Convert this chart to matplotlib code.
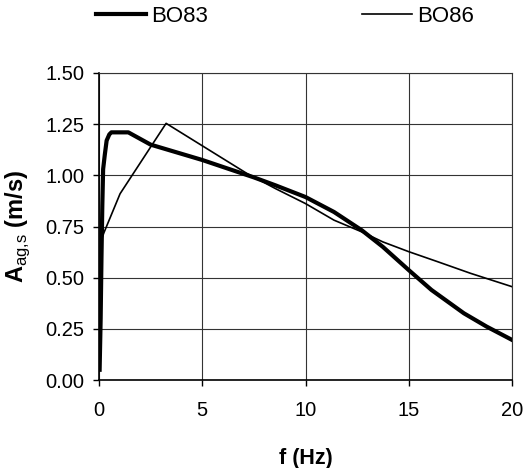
import matplotlib
matplotlib.use("Agg")
from matplotlib import pyplot as plt

plt.rcParams['font.family'] = ['Liberation Sans', 'DejaVu Sans']
plt.rcParams['mathtext.fontset'] = 'custom'
plt.rcParams['mathtext.rm'] = 'Liberation Sans'
plt.rcParams['mathtext.bf'] = 'Liberation Sans:bold'

# BO83 (thick line)
f_bo83 = [0.03, 0.08, 0.12, 0.16, 0.2, 0.28, 0.37, 0.5, 0.6, 1.0, 1.42, 2.5, 5.0, 7.5,
          8.55, 10.0, 11.38, 12.72, 13.74, 15.0, 16.1, 17.67, 18.77, 20.0]
a_bo83 = [0.05, 0.3, 0.6, 0.85, 1.03, 1.1, 1.17, 1.2, 1.21, 1.21, 1.21, 1.15, 1.075, 0.99,
          0.951, 0.894, 0.821, 0.732, 0.651, 0.537, 0.44, 0.326, 0.261, 0.196]

# BO86 (thin line)
f_bo86 = [0.1, 0.24, 1.02, 3.25, 7.15, 8.55, 10.0, 11.38, 12.72, 13.74, 15.0, 16.4, 18.0, 20.0]
a_bo86 = [0.68, 0.72, 0.91, 1.254, 1.01, 0.935, 0.862, 0.781, 0.724, 0.675, 0.627, 0.578, 0.521, 0.456]

x_ticks = [0, 5, 10, 15, 20]
y_ticks = [0.0, 0.25, 0.5, 0.75, 1.0, 1.25, 1.5]

fig = plt.figure(figsize=(5.3, 4.68), dpi=100)
ax = fig.add_axes([99 / 530, 1 - 380 / 468, 413 / 530, 307 / 468])

ax.plot(f_bo83, a_bo83, color='black', lw=3.0, label='BO83', solid_joinstyle='round')
ax.plot(f_bo86, a_bo86, color='black', lw=1.2, label='BO86')

ax.set_xlim(0, 20)
ax.set_ylim(0, 1.5)
ax.set_xticks(x_ticks)
ax.set_yticks(y_ticks)
ax.set_yticklabels(['%.2f' % v for v in y_ticks])
ax.grid(True, color='#333333', lw=0.8)
ax.set_axisbelow(True)
ax.tick_params(direction='out', length=4, width=1, labelsize=14.5, color='black')
ax.tick_params(axis='x', pad=11)
ax.tick_params(axis='y', pad=6.5)
for side in ['top', 'right']:
    ax.spines[side].set_color('#333333')
    ax.spines[side].set_linewidth(0.8)
for side in ['left', 'bottom']:
    ax.spines[side].set_linewidth(1.2)

ax.set_xlabel('f (Hz)', fontsize=15.5, fontweight='bold', labelpad=20)
ax.set_ylabel(r'A$_{\rm ag{,}s}$ (m/s)', fontsize=17, fontweight='bold')
ax.yaxis.set_label_coords(-0.163, 0.5)

fig.legend(loc='upper left', bbox_to_anchor=(96 / 530, 1 - 6 / 468), ncol=2, frameon=False,
           fontsize=16, handlelength=2.25, handletextpad=0.25, columnspacing=6.9,
           borderpad=0, borderaxespad=0)

fig.savefig('out.png', dpi=100)
